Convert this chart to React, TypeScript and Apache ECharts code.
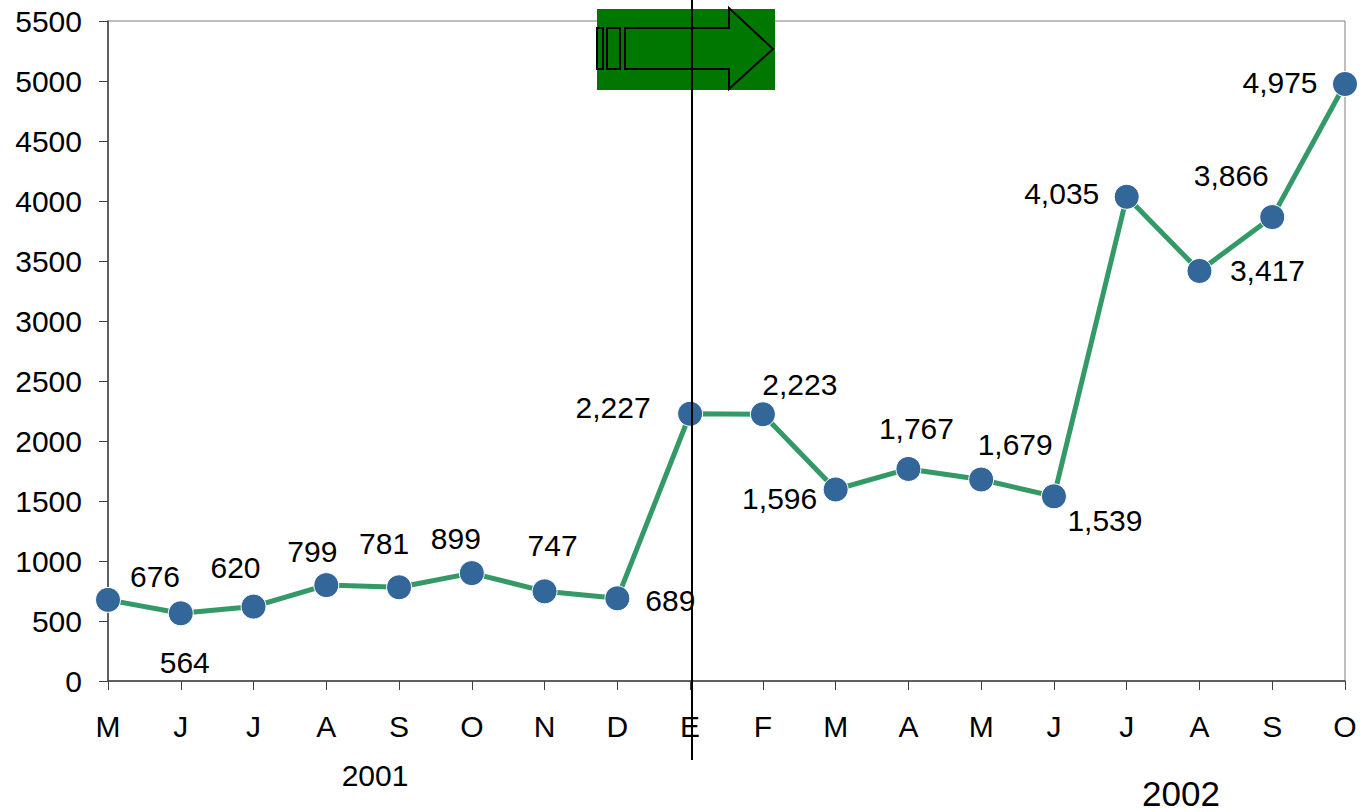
import React, { useEffect, useRef } from "react";
import * as echarts from "echarts";

const months = ["M", "J", "J", "A", "S", "O", "N", "D", "E", "F", "M", "A", "M", "J", "J", "A", "S", "O"];
const values = [676, 564, 620, 799, 781, 899, 747, 689, 2227, 2223, 1596, 1767, 1679, 1539, 4035, 3417, 3866, 4975];
const labelOffsets: [number, number][] = [
  [47, -23], [4, 49], [-18, -39], [-14, -34], [-15, -44], [-16, -35], [8, -46], [53, 2],
  [-77, -6], [37, -30], [-56, 9], [8, -40], [34, -35], [51, 24], [-65, -3], [68, 0], [-41, -42], [-65, -2],
];
const yearLabels = ["2001", "2002"];

const FONT = "'Liberation Sans', Arial, Helvetica, sans-serif";

export default function App() {
  const ref = useRef<HTMLDivElement>(null);
  useEffect(() => {
    if (!ref.current) return;
    const chart = echarts.init(ref.current, null, { renderer: "svg" });
    const data = values.map((v, i) => ({
      value: v,
      label: { offset: labelOffsets[i] },
    }));
    chart.setOption({
      animation: false,
      backgroundColor: "#ffffff",
      grid: {
        left: 108, right: 17, top: 21, bottom: 131, containLabel: false,
        show: true, borderColor: "#7f7f7f", borderWidth: 1, backgroundColor: "transparent",
      },
      xAxis: {
        type: "category",
        data: months,
        boundaryGap: false,
        axisLine: { show: true, lineStyle: { color: "#404040", width: 1.5 } },
        axisTick: { show: true, length: 9, inside: false, lineStyle: { color: "#404040" } },
        axisLabel: { margin: 30, fontSize: 30, color: "#000", fontFamily: FONT, interval: 0 },
        splitLine: { show: false },
      },
      yAxis: {
        type: "value",
        min: 0, max: 5500, interval: 500,
        axisLine: { show: true, lineStyle: { color: "#404040", width: 1.5 } },
        axisTick: { show: true, length: 9, inside: false, lineStyle: { color: "#404040" } },
        axisLabel: { margin: 26, fontSize: 30, color: "#000", fontFamily: FONT, formatter: (v: number) => String(v) },
        splitLine: { show: false },
      },
      series: [
        {
          type: "line",
          data,
          symbol: "circle",
          symbolSize: 25,
          lineStyle: { color: "#339966", width: 5 },
          itemStyle: { color: "#336699", borderColor: "#ffffff", borderWidth: 1 },
          label: {
            show: true,
            position: "inside",
            align: "center",
            verticalAlign: "middle",
            fontSize: 30,
            color: "#000",
            fontFamily: FONT,
            formatter: (p: any) => Number(p.value).toLocaleString("en-US"),
          },
          z: 3,
        },
      ],
      graphic: [
        { type: "rect", z: 100, shape: { x: 597, y: 9, width: 178, height: 81 }, style: { fill: "#007700" } },
        { type: "rect", z: 101, shape: { x: 597, y: 28, width: 6, height: 41 }, style: { fill: "none", stroke: "#000", lineWidth: 2 } },
        { type: "rect", z: 101, shape: { x: 607, y: 28, width: 13, height: 41 }, style: { fill: "none", stroke: "#000", lineWidth: 2 } },
        {
          type: "polygon", z: 101,
          shape: { points: [[625, 28], [729, 28], [729, 8], [773, 49], [729, 89], [729, 69], [625, 69]] },
          style: { fill: "none", stroke: "#000", lineWidth: 2 },
        },
        { type: "line", z: 102, shape: { x1: 692, y1: 0, x2: 692, y2: 760 }, style: { stroke: "#000", lineWidth: 2 } },
        {
          type: "text", z: 100, x: 375, y: 775,
          style: { text: yearLabels[0], fontSize: 30, fill: "#000", fontFamily: FONT, align: "center", verticalAlign: "middle" },
        },
        {
          type: "text", z: 100, x: 1181, y: 793,
          style: { text: yearLabels[1], fontSize: 35, fill: "#000", fontFamily: FONT, align: "center", verticalAlign: "middle" },
        },
      ],
    });
    return () => chart.dispose();
  }, []);
  return <div ref={ref} style={{ width: 1362, height: 812, position: "absolute", left: 0, top: 0 }} />;
}
